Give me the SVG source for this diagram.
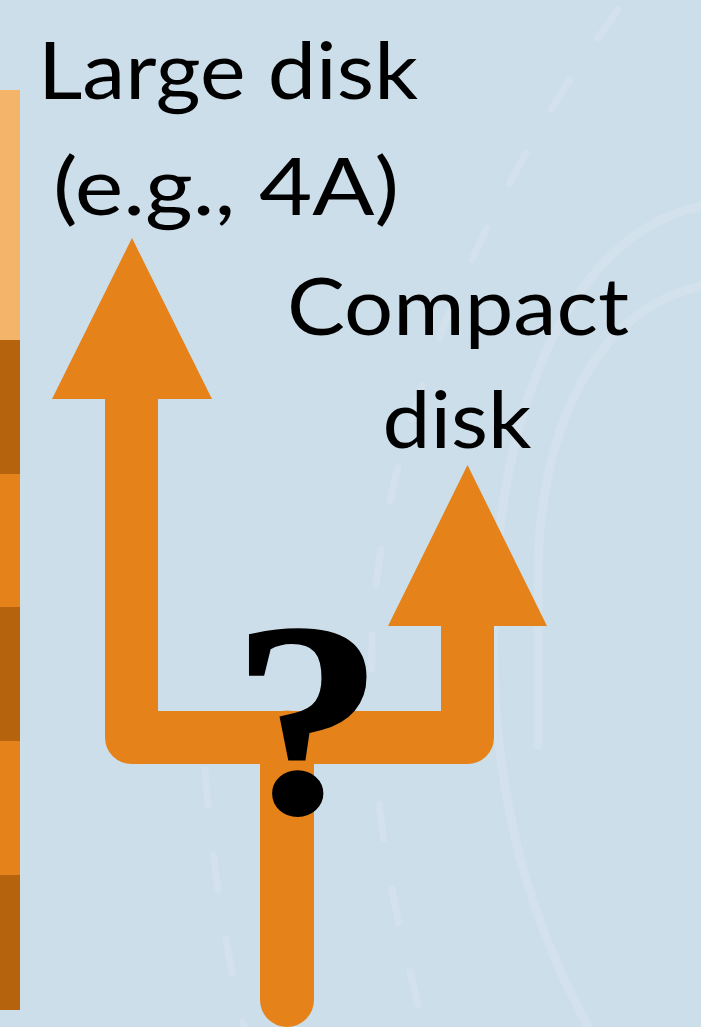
<svg xmlns="http://www.w3.org/2000/svg" width="701" height="1027" viewBox="0 0 701 1027">
<style>
.lbl{font-family:Lato,"Noto Sans","Liberation Sans",sans-serif;font-size:80px;fill:#000;text-anchor:middle}
.q{font-family:"Liberation Serif","DejaVu Serif",serif;font-weight:bold;font-size:276px;fill:#000;text-anchor:middle;stroke:#000;stroke-width:2}
.arm{fill:none;stroke:#E5831A;stroke-width:53;stroke-linejoin:round}
.head{fill:#E5831A}
.deco{fill:none;stroke:#D3E1EC;stroke-width:9;stroke-linecap:round}
.dash{fill:none;stroke:#D3E1EC;stroke-width:7;stroke-dasharray:35 50;stroke-linecap:round}
</style>
<rect id="background" x="0" y="0" width="701" height="1027" fill="#CCDEE9"/>
<g id="decor">
<path class="deco" d="M 705 205 C 570 230 480 420 495 700 C 505 840 540 940 590 1030"/>
<path class="deco" d="M 705 285 C 610 305 545 400 538 560 L 538 745"/>
<path class="dash" d="M 618 10 C 520 140 380 400 372 640 C 368 800 395 920 425 1030"/>
<path class="dash" d="M 205 770 C 212 860 225 950 245 1030"/>
</g>
<g id="sidebar">
<rect x="0" y="90" width="20" height="250" fill="#F4B46A"/>
<rect x="0" y="340" width="20" height="134" fill="#B5630D"/>
<rect x="0" y="474" width="20" height="133" fill="#E5831A"/>
<rect x="0" y="607" width="20" height="134" fill="#B5630D"/>
<rect x="0" y="741" width="20" height="134" fill="#E5831A"/>
<rect x="0" y="875" width="20" height="135" fill="#B5630D"/>
</g>
<g id="connectors">
<path class="arm" d="M 131.5 398 V 737.5 H 467.5 V 625"/>
<path class="arm" d="M 287 737.5 V 1000" style="stroke-width:54;stroke-linecap:round"/>
<polygon class="head" points="52,399 132,238 212,399"/>
<polygon class="head" points="388,626 467.5,465 547,626"/>
</g>
<g id="large-disk">
<text class="lbl" x="228" y="99" textLength="380" lengthAdjust="spacingAndGlyphs">Large disk</text>
<text class="lbl" x="226" y="215" textLength="346" lengthAdjust="spacingAndGlyphs">(e.g., 4A)</text>
</g>
<g id="compact-disk">
<text class="lbl" x="458" y="335" textLength="342" lengthAdjust="spacingAndGlyphs">Compact</text>
<text class="lbl" x="457" y="448" textLength="149" lengthAdjust="spacingAndGlyphs">disk</text>
</g>
<g id="question" transform="translate(290,0) scale(1.1,1) translate(-290,0)">
<text class="q" x="306" y="812">?</text>
</g>
</svg>
